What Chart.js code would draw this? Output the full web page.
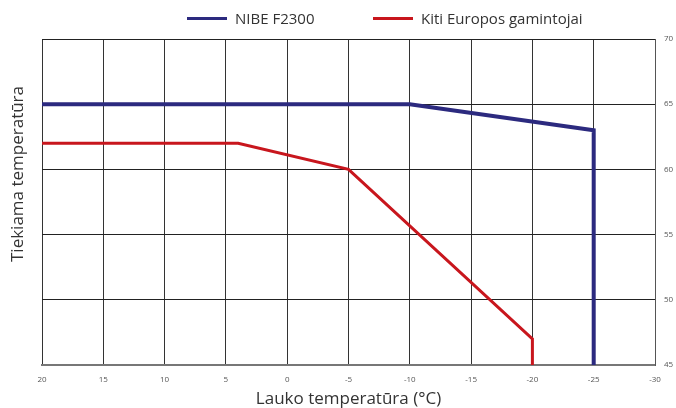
<!DOCTYPE html>
<html>
<head>
<meta charset="utf-8">
<script src="https://cdn.jsdelivr.net/npm/chart.js@4"></script>
<style>
  body { margin: 0; background: #fff; }
  .caja { position: relative; width: 676px; height: 408px; }
  .leyenda { position: absolute; top: 8px; left: 0; width: 676px; height: 20px; font-family: "Open Sans", sans-serif; font-size: 15px; color: #333; }
  .item { position: absolute; top: 0; line-height: 20px; white-space: nowrap; }
  .item span.linea { display: inline-block; width: 40px; height: 3px; vertical-align: middle; margin-right: 8px; position: relative; top: -1px; }
</style>
</head>
<body>
<div class="caja">
  <div class="leyenda" id="leyenda"></div>
  <canvas id="myChart" width="676" height="408"></canvas>
</div>
<script>
// datos
const nibeX = [20, -10, -25, -25]
const nibeY = [65, 65, 63, 45]
const kitiX = [20, 4, -5, -20, -20]
const kitiY = [62, 62, 60, 47, 45]
const series = ["NIBE F2300", "Kiti Europos gamintojai"]
const colores = ["#2c2a7f", "#c8161d"]
const xTicks = [20, 15, 10, 5, 0, -5, -10, -15, -20, -25, -30]
const yTicks = [45, 50, 55, 60, 65, 70]
const tituloY = "Tiekiama temperatūra"
const tituloX = "Lauko temperatūra (°C)"

function puntos(xs, ys) {
    return xs.map((x, i) => ({ x: x, y: ys[i] }))
}

// leyenda en html
const leyenda = document.querySelector("#leyenda")
const posiciones = [187, 373]
let html = ""
series.forEach((nombre, i) => {
    html += `<div class="item" style="left:${posiciones[i]}px"><span class="linea" style="background:${colores[i]}"></span>${nombre}</div>`
})
leyenda.innerHTML = html

const tickFont = { family: "'Open Sans', sans-serif", size: 8 }
const titleFont = { family: "'Open Sans', sans-serif", size: 17, lineHeight: 1 }

// titulo del eje y, un poco arriba del centro como en el original
const tituloIzq = {
    id: "tituloIzq",
    afterDraw(chart) {
        const ctx = chart.ctx
        ctx.save()
        ctx.translate(18, 174)
        ctx.rotate(-Math.PI / 2)
        ctx.font = "17px 'Open Sans', sans-serif"
        ctx.fillStyle = "#333"
        ctx.textAlign = "center"
        ctx.textBaseline = "middle"
        ctx.fillText(tituloY, 0, 0)
        ctx.restore()
    }
}

const config = {
    type: "line",
    data: {
        datasets: [
            {
                label: series[0],
                data: puntos(nibeX, nibeY),
                borderColor: colores[0],
                borderWidth: 4,
                pointRadius: 0,
                tension: 0
            },
            {
                label: series[1],
                data: puntos(kitiX, kitiY),
                borderColor: colores[1],
                borderWidth: 3,
                pointRadius: 0,
                tension: 0
            }
        ]
    },
    options: {
        responsive: false,
        animation: false,
        layout: { padding: { top: 39, left: 42, right: 0, bottom: 0 } },
        plugins: {
            legend: { display: false },
            tooltip: { enabled: false }
        },
        scales: {
            x: {
                type: "linear",
                reverse: true,
                min: -30,
                max: 20,
                afterBuildTicks: (axis) => { axis.ticks = xTicks.map(v => ({ value: v })) },
                grid: { color: "#333", lineWidth: 1, drawTicks: false },
                border: { color: "#777", width: 2 },
                ticks: { font: tickFont, color: "#555", padding: 10, maxRotation: 0 },
                title: { display: true, text: tituloX, font: titleFont, color: "#333", padding: { top: 0, bottom: 0 } },
                afterFit: (axis) => { axis.height = 43 }
            },
            y: {
                position: "right",
                min: 45,
                max: 70,
                afterBuildTicks: (axis) => { axis.ticks = yTicks.map(v => ({ value: v })) },
                grid: { color: "#222", lineWidth: 1, drawTicks: false },
                border: { color: "#555", width: 1 },
                ticks: { font: tickFont, color: "#555", padding: 9 },
                afterFit: (axis) => { axis.width = 21 }
            }
        }
    },
    plugins: [tituloIzq]
}

new Chart(document.querySelector("#myChart"), config)
</script>
</body>
</html>
